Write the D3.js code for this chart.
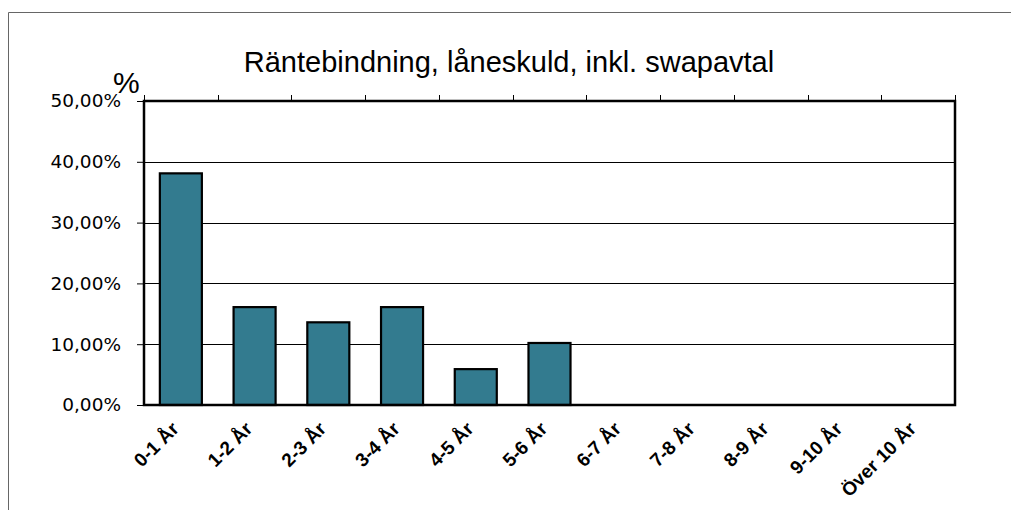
<!DOCTYPE html>
<html>
<head>
<meta charset="utf-8">
<script src="https://cdn.jsdelivr.net/npm/d3@7"></script>
<style>
  body { margin: 0; background: #fff; }
  svg { display: block; }
</style>
</head>
<body>
<div id="chart"></div>
<script>
var svgW = 1011, svgH = 510;

var categories = ['0-1 År', '1-2 År', '2-3 År', '3-4 År', '4-5 År', '5-6 År',
                  '6-7 År', '7-8 År', '8-9 År', '9-10 År', 'Över 10 År'];
var values = [0.381, 0.161, 0.136, 0.161, 0.059, 0.102, 0, 0, 0, 0, 0];
var yTicks = [0, 0.1, 0.2, 0.3, 0.4, 0.5];

var plot = {left: 144, top: 101, right: 955, bottom: 405};

var svg = d3.select('#chart')
  .append('svg')
    .attr('width', svgW)
    .attr('height', svgH);

// outer chart frame (runs off the right and bottom edge)
svg.append('path')
  .attr('d', 'M8.5,' + (svgH + 5) + 'V12.5H' + (svgW + 5))
  .attr('fill', 'none')
  .attr('stroke', '#666')
  .attr('stroke-width', 1);

var x = d3.scaleBand()
  .domain(categories)
  .range([plot.left, plot.right])
  .paddingInner(0.43)
  .paddingOuter(0.215);

var xEdges = d3.scaleLinear()
  .domain([0, categories.length])
  .range([plot.left, plot.right]);

var y = d3.scaleLinear()
  .domain([0, 0.5])
  .range([plot.bottom, plot.top]);

var fmt = function(d) { return d3.format('.2f')(d * 100).replace('.', ',') + '%'; };

// gridlines
svg.append('g')
  .selectAll('line')
  .data(yTicks.slice(1, -1))
  .enter()
  .append('line')
    .attr('x1', plot.left)
    .attr('x2', plot.right)
    .attr('y1', function(d) { return Math.round(y(d)) + 0.5; })
    .attr('y2', function(d) { return Math.round(y(d)) + 0.5; })
    .attr('stroke', '#000')
    .attr('stroke-width', 1);

// y axis
var yAxis = svg.append('g')
  .attr('transform', 'translate(' + plot.left + ',0)')
  .call(d3.axisLeft(y).tickValues(yTicks).tickFormat(fmt).tickSize(7).tickSizeOuter(0).tickPadding(16));
yAxis.select('.domain').remove();
yAxis.selectAll('line').attr('stroke', '#000');
yAxis.selectAll('text')
  .attr('fill', '#000')
  .style('font-family', '"DejaVu Sans", sans-serif')
  .style('font-size', '18.5px');

// top ticks at band edges
svg.append('g')
  .selectAll('line')
  .data(d3.range(categories.length + 1))
  .enter()
  .append('line')
    .attr('x1', function(d) { return Math.round(xEdges(d)) + 0.5; })
    .attr('x2', function(d) { return Math.round(xEdges(d)) + 0.5; })
    .attr('y1', plot.top - 6)
    .attr('y2', plot.top)
    .attr('stroke', '#000')
    .attr('stroke-width', 1);

// bars (zero values are not drawn)
var barIdx = d3.range(values.length).filter(function(i) { return values[i] > 0; });
svg.append('g')
  .selectAll('rect')
  .data(barIdx)
  .enter()
  .append('rect')
    .attr('x', function(i) { return x(categories[i]); })
    .attr('y', function(i) { return y(values[i]); })
    .attr('width', x.bandwidth())
    .attr('height', function(i) { return plot.bottom - y(values[i]); })
    .attr('fill', '#337b8f')
    .attr('stroke', '#000')
    .attr('stroke-width', 2.2);

// plot border
svg.append('rect')
  .attr('x', plot.left)
  .attr('y', plot.top)
  .attr('width', plot.right - plot.left)
  .attr('height', plot.bottom - plot.top)
  .attr('fill', 'none')
  .attr('stroke', '#000')
  .attr('stroke-width', 2.5);

// x labels
svg.append('g')
  .selectAll('text')
  .data(categories)
  .enter()
  .append('text')
    .attr('transform', function(d) {
      return 'translate(' + (x(d) + x.bandwidth() / 2 - 1) + ',' + (plot.bottom + 25) + ') rotate(-45)';
    })
    .attr('text-anchor', 'end')
    .style('font-family', '"Liberation Sans", Arial, sans-serif')
    .style('font-weight', 'bold')
    .style('font-size', '19px')
    .text(function(d) { return d; });

// title
svg.append('text')
  .attr('x', 509)
  .attr('y', 72)
  .attr('text-anchor', 'middle')
  .style('font-family', '"Liberation Sans", Arial, sans-serif')
  .style('font-size', '29px')
  .text('Räntebindning, låneskuld, inkl. swapavtal');

// unit label
svg.append('text')
  .attr('x', 113)
  .attr('y', 93)
  .style('font-family', '"Liberation Sans", Arial, sans-serif')
  .style('font-size', '30px')
  .text('%');
</script>
</body>
</html>
